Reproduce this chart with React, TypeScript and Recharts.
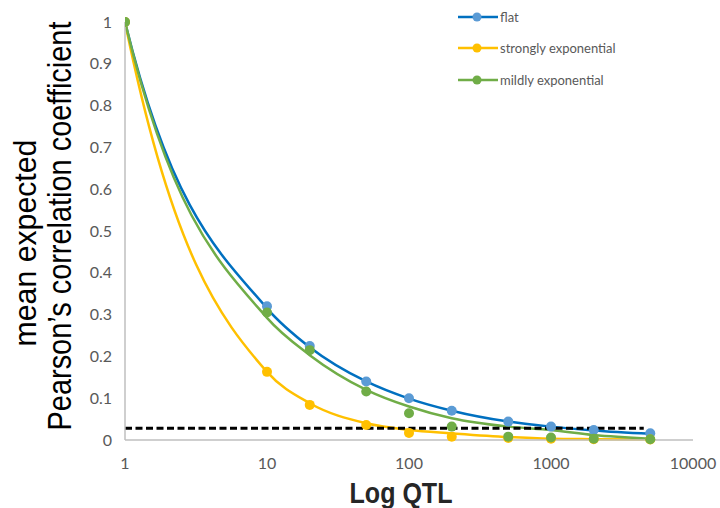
import { ComposedChart, Line, Scatter, XAxis, YAxis } from 'recharts'

const qtl = [1, 10, 20, 50, 100, 200, 500, 1000, 2000, 5000]

// markers
const flatDots = [1, 0.32, 0.225, 0.14, 0.1, 0.07, 0.044, 0.032, 0.024, 0.016]
const strongDots = [1, 0.163, 0.084, 0.036, 0.017, 0.008, 0.005, 0.003, 0.002, 0.001]
const mildDots = [1, 0.305, 0.215, 0.116, 0.064, 0.032, 0.008, 0.006, 0.003, 0.002]

// smoothed lines at the same QTL counts
const flatLine = [1, 0.315, 0.222, 0.14, 0.099, 0.07, 0.044, 0.032, 0.023, 0.015]
const strongLine = [1, 0.163, 0.088, 0.04, 0.024, 0.016, 0.007, 0.003, 0.002, 0.001]
const mildLine = [1, 0.292, 0.203, 0.12, 0.08, 0.052, 0.032, 0.024, 0.012, 0.003]

const thresholdX = [1, 4500]
const thresholdY = 0.028

const xTicks = [1, 10, 100, 1000, 10000]
const yTicks = [0, 0.1, 0.2, 0.3, 0.4, 0.5, 0.6, 0.7, 0.8, 0.9, 1]

const series = [
  { name: 'flat', dots: flatDots, line: flatLine, lineColor: '#0070C0', dotColor: '#5B9BD5' },
  { name: 'strongly exponential', dots: strongDots, line: strongLine, lineColor: '#FFC000', dotColor: '#FFC000' },
  { name: 'mildly exponential', dots: mildDots, line: mildLine, lineColor: '#70AD47', dotColor: '#70AD47' },
]

const toPoints = (vals: number[]) => qtl.map((x, i) => ({ x, y: vals[i] }))
const threshold = thresholdX.map((x) => ({ x, y: thresholdY }))

const tickStyle = { fill: '#595959', fontSize: 16, fontFamily: 'Lato, sans-serif' }
const titleFont = "'Liberation Sans', Arial, sans-serif"

// monotone cubic, but with a steeper first tangent so the decay off x=1 looks like the smoothed Excel curve
const decayCurve = (context: any) => {
  let xs: number[] = []
  let ys: number[] = []
  return {
    areaStart() {},
    areaEnd() {},
    lineStart() {
      xs = []
      ys = []
    },
    point(x: number, y: number) {
      xs.push(+x)
      ys.push(+y)
    },
    lineEnd() {
      const n = xs.length
      if (!n) return
      context.moveTo(xs[0], ys[0])
      if (n === 1) return
      const s: number[] = []
      for (let i = 0; i < n - 1; i++) s.push((ys[i + 1] - ys[i]) / (xs[i + 1] - xs[i]))
      const t: number[] = new Array(n).fill(0)
      if (n === 2) {
        t[0] = t[1] = s[0]
      } else {
        for (let i = 1; i < n - 1; i++) {
          const h0 = xs[i] - xs[i - 1]
          const h1 = xs[i + 1] - xs[i]
          const p = (s[i - 1] * h1 + s[i] * h0) / (h0 + h1)
          t[i] =
            (Math.sign(s[i - 1]) + Math.sign(s[i])) *
              Math.min(Math.abs(s[i - 1]), Math.abs(s[i]), 0.5 * Math.abs(p)) || 0
        }
        t[0] = 2 * s[0]
        t[n - 1] = (3 * s[n - 2] - t[n - 2]) / 2
      }
      for (let i = 0; i < n - 1; i++) {
        const dx = (xs[i + 1] - xs[i]) / 3
        context.bezierCurveTo(
          xs[i] + dx,
          ys[i] + dx * t[i],
          xs[i + 1] - dx,
          ys[i + 1] - dx * t[i + 1],
          xs[i + 1],
          ys[i + 1]
        )
      }
    },
  }
}

function LegendBox() {
  return (
    <div
      style={{
        position: 'absolute',
        left: 458,
        top: 1,
        fontFamily: 'Lato, sans-serif',
        fontSize: 13,
        color: '#595959',
      }}
    >
      {series.map((s) => (
        <div key={s.name} style={{ display: 'flex', alignItems: 'center', height: 31.5 }}>
          <svg width={40} height={12} style={{ marginRight: 2 }}>
            <line x1={0} y1={6} x2={40} y2={6} stroke={s.lineColor} strokeWidth={2.5} />
            <circle cx={19} cy={6} r={4.5} fill={s.dotColor} />
          </svg>
          <span>{s.name}</span>
        </div>
      ))}
    </div>
  )
}

// the titles in the original are squeezed along their length, so scale them instead of using textLength
function Titles() {
  return (
    <svg
      width={720}
      height={508}
      style={{ position: 'absolute', left: 0, top: 0, pointerEvents: 'none' }}
      fontFamily={titleFont}
    >
      <g transform="translate(36 243) rotate(-90) scale(0.946 1)">
        <text x={0} y={0} textAnchor="middle" fontSize={32}>
          mean expected
        </text>
      </g>
      <g transform="translate(71 226) rotate(-90) scale(0.877 1)">
        <text x={0} y={0} textAnchor="middle" fontSize={33}>
          Pearson’s correlation coefficient
        </text>
      </g>
      <g transform="translate(401 503) scale(0.864 1)">
        <text x={0} y={0} textAnchor="middle" fontSize={29} fontWeight={700} fill="#262626">
          Log QTL
        </text>
      </g>
    </svg>
  )
}

export default function App() {
  return (
    <div style={{ position: 'absolute', left: 0, top: 0, width: 720, height: 508, background: '#fff' }}>
      <ComposedChart width={720} height={508} margin={{ top: 22, right: 27, left: 0, bottom: 0 }}>
        <XAxis
          type="number"
          dataKey="x"
          scale="log"
          domain={[1, 10000]}
          ticks={xTicks}
          allowDataOverflow
          tickLine={false}
          axisLine={{ stroke: '#BFBFBF', strokeWidth: 1.5 }}
          tick={tickStyle}
          tickMargin={12}
          height={68}
        />
        <YAxis
          type="number"
          domain={[0, 1]}
          ticks={yTicks}
          axisLine={{ stroke: '#BFBFBF', strokeWidth: 1.5 }}
          tickLine={false}
          tickSize={0}
          tickMargin={13}
          tick={tickStyle}
          width={125}
        />
        {series.map((s) => (
          <Line
            key={s.name + '-line'}
            data={toPoints(s.line)}
            dataKey="y"
            type={decayCurve as any}
            stroke={s.lineColor}
            strokeWidth={2.5}
            dot={false}
            activeDot={false}
            isAnimationActive={false}
          />
        ))}
        {series.map((s) => (
          <Scatter
            key={s.name + '-dots'}
            name={s.name}
            data={toPoints(s.dots)}
            dataKey="y"
            fill={s.dotColor}
            shape={(p: any) => <circle cx={p.cx} cy={p.cy} r={5} fill={s.dotColor} />}
            isAnimationActive={false}
          />
        ))}
        <Line
          data={threshold}
          dataKey="y"
          stroke="#000"
          strokeWidth={3}
          strokeDasharray="7 3.5"
          dot={false}
          activeDot={false}
          isAnimationActive={false}
        />
      </ComposedChart>
      <LegendBox />
      <Titles />
    </div>
  )
}
